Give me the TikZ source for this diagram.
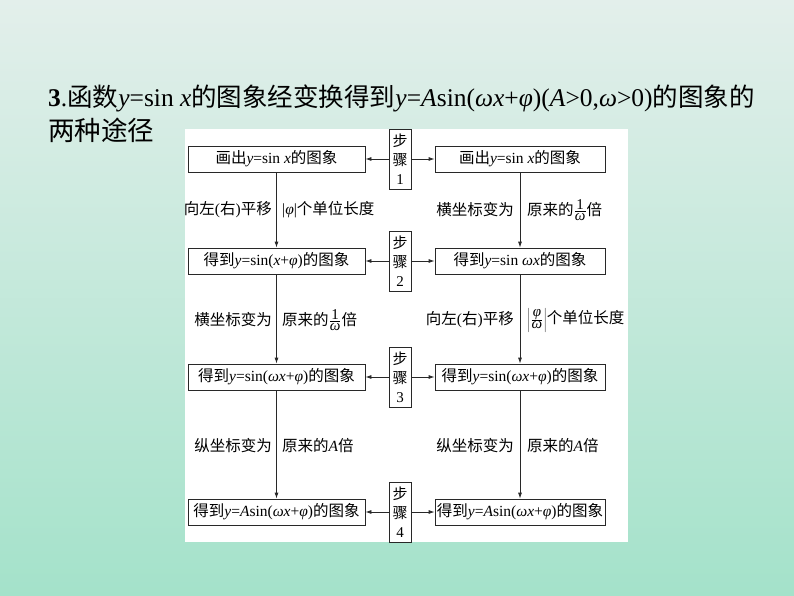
\documentclass[tikz,border=0pt]{standalone}
\usepackage{fontspec}
\setmainfont{Liberation Serif}
\newfontfamily\cjk{Noto Sans CJK SC}
\usetikzlibrary{arrows.meta}
\newcommand{\zh}[1]{{\cjk #1}}
\newcommand{\vi}[1]{\textit{#1}}
\newcommand{\mfrc}[2]{\frac{\mbox{\fontsize{15}{15}\selectfont #1}}{\mbox{\fontsize{15}{15}\selectfont #2}}}
\newcommand{\frc}[2]{$\mfrc{#1}{#2}$}
\definecolor{bgtop}{RGB}{227,239,235}
\definecolor{bgmid}{RGB}{200,236,221}
\definecolor{bgbot}{RGB}{164,226,202}
\definecolor{ink}{RGB}{40,40,40}
\begin{document}
\begin{tikzpicture}[x=1pt, y=-1pt,
    box/.style={draw=ink, line width=0.8pt, inner sep=0, minimum height=26, font=\fontsize{15.5}{17}\selectfont},
    lbox/.style={box, minimum width=177},
    rbox/.style={box, minimum width=170},
    stepbox/.style={draw=ink, line width=0.8pt, fill=white, inner sep=0, minimum width=22, minimum height=60, align=center, font=\fontsize{15}{19}\selectfont},
    lab/.style={inner sep=0, font=\fontsize{15.5}{17}\selectfont},
    arr/.style={draw=ink, line width=0.8pt, -{Latex[length=6pt,width=4pt]}}]
      \useasboundingbox (0,0) rectangle (794,596);
      \shade[top color=bgtop, middle color=bgmid, bottom color=bgbot] (0,0) rectangle (794,596);
      \fill[white] (185,129) rectangle (628,542);
      \node[anchor=base west, inner sep=0, font=\fontsize{25.5}{30}\selectfont] (title) at (48,107) {\textbf{3}.\zh{函数}\vi{y}=sin \vi{x}\zh{的图象经变换得到}\vi{y}=\vi{A}sin(\vi{ωx}+\vi{φ})(\vi{A}>0,\vi{ω}>0)\zh{的图象的}};
      \node[anchor=base west, inner sep=0, font=\fontsize{26.5}{30}\selectfont] (title2) at (48,141) {\zh{两种途径}};
      \node[lbox] (l1) at (276.5,159) {\zh{画出}\vi{y}=sin \vi{x}\zh{的图象}};
      \node[rbox] (r1) at (520,159) {\zh{画出}\vi{y}=sin \vi{x}\zh{的图象}};
      \node[lbox] (l2) at (276.5,261) {\zh{得到}\vi{y}=sin(\vi{x}+\vi{φ})\zh{的图象}};
      \node[rbox] (r2) at (520,261) {\zh{得到}\vi{y}=sin \vi{ωx}\zh{的图象}};
      \node[lbox] (l3) at (276.5,377) {\zh{得到}\vi{y}=sin(\vi{ωx}+\vi{φ})\zh{的图象}};
      \node[rbox] (r3) at (520,377) {\zh{得到}\vi{y}=sin(\vi{ωx}+\vi{φ})\zh{的图象}};
      \node[lbox] (l4) at (276.5,512) {\zh{得到}\vi{y}=\vi{A}sin(\vi{ωx}+\vi{φ})\zh{的图象}};
      \node[rbox] (r4) at (520,512) {\zh{得到}\vi{y}=\vi{A}sin(\vi{ωx}+\vi{φ})\zh{的图象}};
      \node[stepbox] (s1) at (400,159) {\zh{步}\\\zh{骤}\\1};
      \node[stepbox] (s2) at (400,261) {\zh{步}\\\zh{骤}\\2};
      \node[stepbox] (s3) at (400,377) {\zh{步}\\\zh{骤}\\3};
      \node[stepbox] (s4) at (400,512) {\zh{步}\\\zh{骤}\\4};
      \draw[arr] (s1) -- (l1);
      \draw[arr] (s1) -- (r1);
      \draw[arr] (s2) -- (l2);
      \draw[arr] (s2) -- (r2);
      \draw[arr] (s3) -- (l3);
      \draw[arr] (s3) -- (r3);
      \draw[arr] (s4) -- (l4);
      \draw[arr] (s4) -- (r4);
      \draw[arr] (l1) -- (l2);
      \draw[arr] (l2) -- (l3);
      \draw[arr] (l3) -- (l4);
      \draw[arr] (r1) -- (r2);
      \draw[arr] (r2) -- (r3);
      \draw[arr] (r3) -- (r4);
      \node[lab, anchor=east] (a1) at (272,210) {\zh{向左}(\zh{右})\zh{平移}};
      \node[lab, anchor=west] (b1) at (282,210) {|\vi{φ}|\zh{个单位长度}};
      \node[lab, anchor=east] (c1) at (514,210) {\zh{横坐标变为}};
      \node[lab, anchor=west] (d1) at (527,210) {\zh{原来的}\frc{1}{\itshape ω}\zh{倍}};
      \node[lab, anchor=east] (a2) at (272,320) {\zh{横坐标变为}};
      \node[lab, anchor=west] (b2) at (282,320) {\zh{原来的}\frc{1}{\itshape ω}\zh{倍}};
      \node[lab, anchor=east] (c2) at (514,320) {\zh{向左}(\zh{右})\zh{平移}};
      \node[lab, anchor=west] (d2) at (527,320) {$\left|\mfrc{\itshape φ}{\itshape ω}\right|$\zh{个单位长度}};
      \node[lab, anchor=east] (a3) at (272,446) {\zh{纵坐标变为}};
      \node[lab, anchor=west] (b3) at (282,446) {\zh{原来的}\vi{A}\zh{倍}};
      \node[lab, anchor=east] (c3) at (514,446) {\zh{纵坐标变为}};
      \node[lab, anchor=west] (d3) at (527,446) {\zh{原来的}\vi{A}\zh{倍}};
    \end{tikzpicture}
\end{document}
